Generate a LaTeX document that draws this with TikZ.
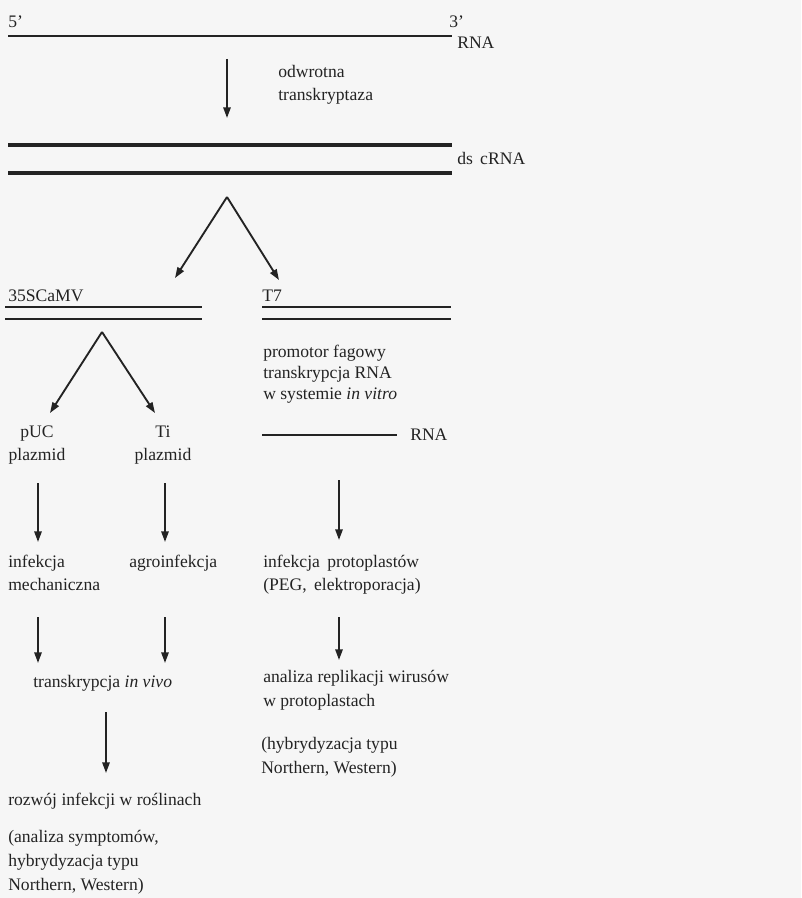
\documentclass[tikz,border=0pt]{standalone}
\usepackage{fontspec}
\setmainfont{Liberation Serif}
\usetikzlibrary{arrows.meta}
\definecolor{ink}{RGB}{35,35,35}
\definecolor{paper}{RGB}{246,246,246}
\begin{document}
\begin{tikzpicture}[x=0.75pt,y=-0.75pt,
  txt/.style={inner sep=0pt, anchor=base west, text=ink, font=\fontsize{13.2}{15}\selectfont},
  ctxt/.style={txt, anchor=base},
  strand/.style={draw=ink, line width=2.2pt},
  dsstrand/.style={draw=ink, line width=3pt},
  flow/.style={draw=ink, line width=1.4pt, -{Triangle[length=8pt,width=5.5pt]}}]
\fill[paper] (0,0) rectangle (801,898);
\useasboundingbox (0,0) rectangle (801,898);
% top RNA
\node[txt] (p5) at (8,28) {5'};
\node[txt] (p3) at (449,28) {3'};
\coordinate (rnaL) at (8,36); \coordinate (rnaR) at (452,36);
\draw[strand] (rnaL) -- (rnaR);
\node[txt] (rna1) at (457,49) {RNA};
% reverse transcriptase
\coordinate (a1s) at (227,59); \coordinate (a1e) at (227,118);
\draw[flow] (a1s) -- (a1e);
\node[txt] (rt1) at (278,78) {odwrotna};
\node[txt] (rt2) at (278,101) {transkryptaza};
% ds cRNA
\coordinate (ds1L) at (8,145); \coordinate (ds1R) at (452,145);
\coordinate (ds2L) at (8,173); \coordinate (ds2R) at (452,173);
\draw[dsstrand] (ds1L) -- (ds1R);
\draw[dsstrand] (ds2L) -- (ds2R);
\node[txt] (ds) at (457,165) {ds\, cRNA};
% split 1
\coordinate (ap1) at (227,197);
\coordinate (ap1l) at (175,278); \coordinate (ap1r) at (279,280);
\draw[flow] (ap1) -- (ap1l);
\draw[flow] (ap1) -- (ap1r);
% 35S and T7
\node[txt] (s35) at (8,301) {35SCaMV};
\node[txt] (t7) at (262,301) {T7};
\coordinate (l1L) at (5,307); \coordinate (l1R) at (202,307);
\coordinate (l2L) at (5,319); \coordinate (l2R) at (202,319);
\coordinate (r1L) at (262,307); \coordinate (r1R) at (451,307);
\coordinate (r2L) at (262,319); \coordinate (r2R) at (451,319);
\draw[strand] (l1L) -- (l1R);
\draw[strand] (l2L) -- (l2R);
\draw[strand] (r1L) -- (r1R);
\draw[strand] (r2L) -- (r2R);
% right text
\node[txt] (pf1) at (263,357) {promotor fagowy};
\node[txt] (pf2) at (263,378) {transkrypcja RNA};
\node[txt] (pf3) at (263,399) {w systemie \textit{in vitro}};
% split 2
\coordinate (ap2) at (102,332);
\coordinate (ap2l) at (50,413); \coordinate (ap2r) at (155,413);
\draw[flow] (ap2) -- (ap2l);
\draw[flow] (ap2) -- (ap2r);
\node[ctxt] (puc1) at (37,437) {pUC};
\node[ctxt] (puc2) at (37,460) {plazmid};
\node[ctxt] (ti1) at (163,437) {Ti};
\node[ctxt] (ti2) at (163,460) {plazmid};
% RNA lower
\coordinate (rna2L) at (262,435); \coordinate (rna2R) at (397,435);
\draw[strand] (rna2L) -- (rna2R);
\node[txt] (rna2) at (410,440) {RNA};
% arrows row 1
\coordinate (b1s) at (38,483); \coordinate (b1e) at (38,542);
\coordinate (b2s) at (165,483); \coordinate (b2e) at (165,542);
\coordinate (b3s) at (339,480); \coordinate (b3e) at (339,540);
\draw[flow] (b1s) -- (b1e);
\draw[flow] (b2s) -- (b2e);
\draw[flow] (b3s) -- (b3e);
\node[txt] (im1) at (8,567) {infekcja};
\node[txt] (im2) at (8,590) {mechaniczna};
\node[txt] (ag) at (129,567) {agroinfekcja};
\node[txt] (ip1) at (263,567) {infekcja\, protoplastów};
\node[txt] (ip2) at (263,590) {(PEG,\, elektroporacja)};
% arrows row 2
\coordinate (c1s) at (38,617); \coordinate (c1e) at (38,663);
\coordinate (c2s) at (165,617); \coordinate (c2e) at (165,663);
\coordinate (c3s) at (339,617); \coordinate (c3e) at (339,660);
\draw[flow] (c1s) -- (c1e);
\draw[flow] (c2s) -- (c2e);
\draw[flow] (c3s) -- (c3e);
\node[txt] (tv) at (33,687) {transkrypcja \textit{in vivo}};
\node[txt] (ar1) at (263,682) {analiza replikacji wirusów};
\node[txt] (ar2) at (263,706) {w protoplastach};
\node[txt] (hr1) at (261,749) {(hybrydyzacja typu};
\node[txt] (hr2) at (261,773) {Northern, Western)};
% arrow 3
\coordinate (d1s) at (106,712); \coordinate (d1e) at (106,773);
\draw[flow] (d1s) -- (d1e);
\node[txt] (ri) at (8,805) {rozwój infekcji w roślinach};
\node[txt] (as1) at (8,842) {(analiza symptomów,};
\node[txt] (as2) at (8,866) {hybrydyzacja typu};
\node[txt] (as3) at (8,890) {Northern, Western)};
\end{tikzpicture}
\end{document}
